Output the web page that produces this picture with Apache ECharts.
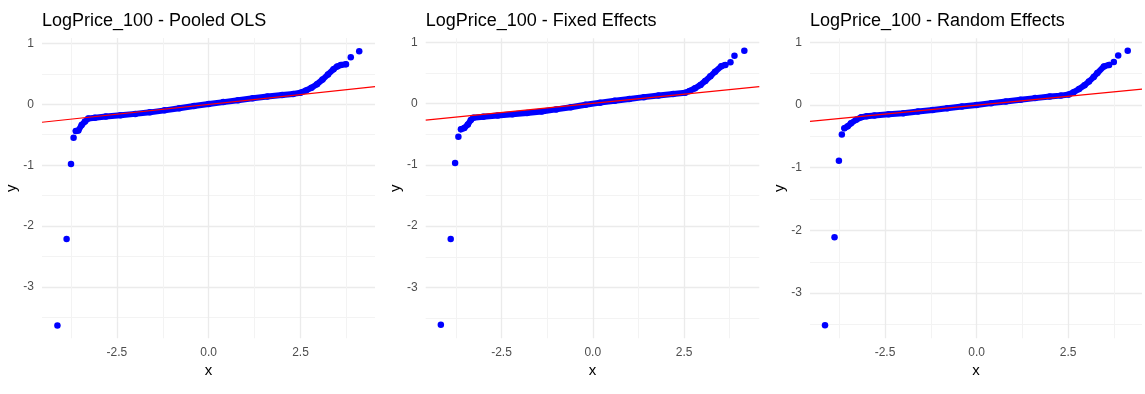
<!DOCTYPE html>
<html>
<head>
<meta charset="utf-8">
<script src="https://cdn.jsdelivr.net/npm/echarts@6/dist/echarts.min.js"></script>
<style>
  html, body { margin: 0; padding: 0; background: #fff; }
  #chart { width: 1145px; height: 394px; }
</style>
</head>
<body>
<div id="chart"></div>
<script>
const titles = ['LogPrice_100 - Pooled OLS', 'LogPrice_100 - Fixed Effects', 'LogPrice_100 - Random Effects'];
const xTicks = [-2.5, 0, 2.5];
const xMinor = [-3.75, -1.25, 1.25, 3.75];
const yTicks = [-3, -2, -1, 0, 1];
const yMinor = [-3.5, -2.5, -1.5, -0.5, 0.5];

// Pooled OLS: theoretical vs sample quantiles
const pooledLow = [[-4.12, -3.63], [-3.87, -2.21], [-3.75, -0.98], [-3.68, -0.55]];
const pooledBody = [[-3.62, -0.44], [-3.55, -0.43], [-3.46, -0.34], [-3.37, -0.285], [-3.28, -0.235], [-3.1, -0.222],
  [-2.8, -0.2], [-2.4, -0.18], [-2.0, -0.158], [-1.6, -0.133], [-1.2, -0.1], [-0.8, -0.065], [-0.4, -0.03],
  [0, 0.004], [0.4, 0.035], [0.8, 0.065], [1.2, 0.097], [1.6, 0.128], [2.0, 0.152], [2.3, 0.17], [2.5, 0.19],
  [2.65, 0.225], [2.8, 0.27], [2.95, 0.33], [3.1, 0.405], [3.25, 0.49], [3.4, 0.575], [3.5, 0.62], [3.6, 0.645], [3.74, 0.656]];
const pooledHigh = [[3.87, 0.77], [4.10, 0.87]];
const pooledLine = [[-4.54, -0.295], [4.53, 0.289]];

// Fixed Effects
const fixedLow = [[-4.16, -3.61], [-3.89, -2.21], [-3.77, -0.97], [-3.68, -0.54]];
const fixedBody = [[-3.61, -0.42], [-3.52, -0.40], [-3.42, -0.34], [-3.34, -0.27], [-3.27, -0.23], [-3.0, -0.215],
  [-2.6, -0.195], [-2.2, -0.175], [-1.8, -0.155], [-1.4, -0.128], [-1.0, -0.095], [-0.6, -0.06], [-0.2, -0.02],
  [0.2, 0.015], [0.6, 0.045], [1.0, 0.075], [1.4, 0.105], [1.8, 0.13], [2.2, 0.155], [2.53, 0.175], [2.65, 0.205],
  [2.8, 0.25], [2.95, 0.305], [3.08, 0.37], [3.22, 0.445], [3.35, 0.52], [3.52, 0.61], [3.63, 0.63]];
const fixedHigh = [[3.77, 0.675], [3.88, 0.78], [4.15, 0.86]];
const fixedLine = [[-4.575, -0.27], [4.56, 0.277]];

// Random Effects
const randomLow = [[-4.14, -3.51], [-3.88, -2.11], [-3.76, -0.89], [-3.68, -0.47]];
const randomBody = [[-3.61, -0.37], [-3.52, -0.34], [-3.43, -0.29], [-3.29, -0.235], [-3.15, -0.195], [-3.0, -0.18],
  [-2.79, -0.166], [-2.4, -0.148], [-2.0, -0.13], [-1.6, -0.105], [-1.2, -0.08], [-0.8, -0.053], [-0.4, -0.025],
  [0, 0.002], [0.4, 0.03], [0.8, 0.057], [1.2, 0.083], [1.6, 0.11], [2.0, 0.135], [2.3, 0.15], [2.52, 0.168],
  [2.65, 0.205], [2.8, 0.255], [2.95, 0.315], [3.07, 0.376], [3.2, 0.445], [3.3, 0.51], [3.48, 0.616], [3.62, 0.64]];
const randomHigh = [[3.75, 0.686], [3.87, 0.79], [4.13, 0.866]];
const randomLine = [[-4.55, -0.26], [4.52, 0.255]];

const panels = [
  { low: pooledLow, body: pooledBody, high: pooledHigh, ref: pooledLine,
    left: 42, width: 333, xMin: -4.54, xMax: 4.53, top: 38, height: 300.3, yMin: -3.84, yMax: 1.087 },
  { low: fixedLow, body: fixedBody, high: fixedHigh, ref: fixedLine,
    left: 425.7, width: 333.6, xMin: -4.575, xMax: 4.56, top: 38.3, height: 300, yMin: -3.83, yMax: 1.065 },
  { low: randomLow, body: randomBody, high: randomHigh, ref: randomLine,
    left: 810, width: 332, xMin: -4.55, xMax: 4.52, top: 38.3, height: 300, yMin: -3.72, yMax: 1.064 }
];

const FONT = '"Liberation Sans", Arial, sans-serif';
const BLUE = '#0000ff';

const chart = echarts.init(document.getElementById('chart'), null, { renderer: 'canvas' });

const title = [], grid = [], xAxis = [], yAxis = [], series = [];

panels.forEach((p, i) => {
  title.push({
    text: titles[i], left: p.left, top: 12, padding: 0,
    textStyle: { fontFamily: FONT, fontSize: 18, fontWeight: 'normal', color: '#000' }
  });
  grid.push({ left: p.left, top: p.top, width: p.width, height: p.height, containLabel: false });

  // minor grid axes first so the major lines draw on top
  xAxis.push({
    type: 'value', gridIndex: i, min: p.xMin, max: p.xMax, position: 'bottom',
    axisLine: { show: false }, axisTick: { show: false, customValues: xMinor }, axisLabel: { show: false },
    splitLine: { show: true, lineStyle: { color: '#f3f3f3', width: 1 } }
  });
  xAxis.push({
    type: 'value', gridIndex: i, min: p.xMin, max: p.xMax, position: 'bottom',
    name: 'x', nameLocation: 'middle', nameGap: 22,
    nameTextStyle: { fontFamily: FONT, fontSize: 15, color: '#000' },
    axisLine: { show: false }, axisTick: { show: false, customValues: xTicks },
    axisLabel: { customValues: xTicks, margin: 8, fontFamily: FONT, fontSize: 12, color: '#4d4d4d',
      formatter: v => v.toFixed(1) },
    splitLine: { show: true, lineStyle: { color: '#ebebeb', width: 1.3 } }
  });
  yAxis.push({
    type: 'value', gridIndex: i, min: p.yMin, max: p.yMax, position: 'left',
    axisLine: { show: false }, axisTick: { show: false, customValues: yMinor }, axisLabel: { show: false },
    splitLine: { show: true, lineStyle: { color: '#f3f3f3', width: 1 } }
  });
  yAxis.push({
    type: 'value', gridIndex: i, min: p.yMin, max: p.yMax, position: 'left',
    name: 'y', nameLocation: 'middle', nameGap: 18, nameRotate: 90,
    nameTextStyle: { fontFamily: FONT, fontSize: 15, color: '#000' },
    axisLine: { show: false }, axisTick: { show: false, customValues: yTicks },
    axisLabel: { customValues: yTicks, margin: 8, fontFamily: FONT, fontSize: 12, color: '#4d4d4d',
      formatter: v => String(v) },
    splitLine: { show: true, lineStyle: { color: '#ebebeb', width: 1.3 } }
  });

  const xi = 2 * i + 1, yi = 2 * i + 1;
  series.push({
    type: 'line', xAxisIndex: xi, yAxisIndex: yi, data: p.body, showSymbol: false, silent: true,
    lineStyle: { color: BLUE, width: 6, cap: 'round', join: 'round' }, z: 2
  });
  series.push({
    type: 'scatter', xAxisIndex: xi, yAxisIndex: yi, data: p.low.concat(p.body, p.high),
    symbolSize: 6.5, itemStyle: { color: BLUE, opacity: 1 }, z: 3
  });
  series.push({
    type: 'line', xAxisIndex: xi, yAxisIndex: yi, data: p.ref, showSymbol: false, silent: true,
    lineStyle: { color: '#ff0000', width: 1.2 }, z: 4
  });
});

chart.setOption({
  animation: false,
  backgroundColor: '#ffffff',
  title, grid, xAxis, yAxis, series
});
</script>
</body>
</html>
